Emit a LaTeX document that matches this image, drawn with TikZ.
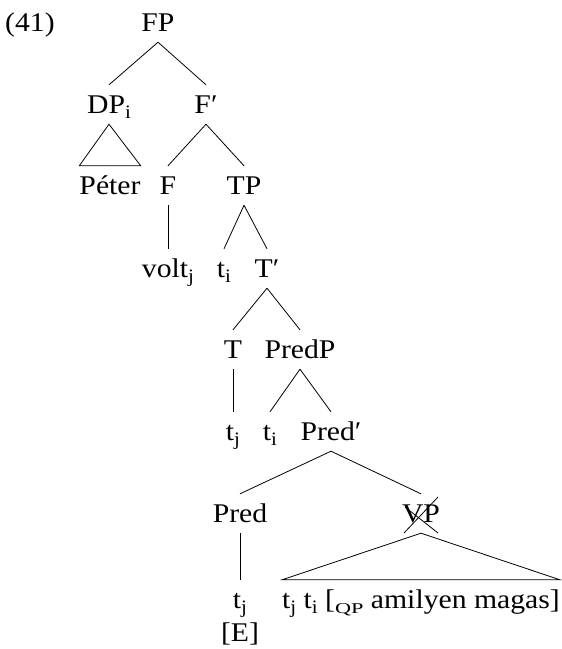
\documentclass[tikz,border=0pt]{standalone}
\usepackage{fontspec}
\usepackage{graphicx}
\setmainfont{Liberation Serif}[FakeStretch=1.1]
\begin{document}
\begin{tikzpicture}[x=1pt,y=-1pt,
  every node/.style={font=\fontsize{27}{32}\selectfont},
  lbl/.style={anchor=base,text height=23pt,text depth=6pt,inner xsep=0pt,inner ysep=5pt},
  edge/.style={line width=0.8pt}]
\useasboundingbox (0,0) rectangle (562,649);
\newcommand{\sbs}[1]{\raisebox{-5pt}{\fontsize{19}{20}\selectfont #1}}
\newcommand{\qpsc}{\raisebox{-5pt}{\scalebox{1.35}[1]{\fontsize{15}{16}\selectfont QP}}}
\node[anchor=base west,inner sep=0pt] (ex) at (5,31) {(41)};
\node[lbl] (FP) at (158,31) {FP};
\node[lbl] (DP) at (109,113) {DP\sbs{i}};
\node[lbl] (Fbar) at (206,113) {F′};
\node[lbl] (Peter) at (110,194) {Péter};
\node[lbl] (F) at (168,194) {F};
\node[lbl] (TP) at (244,194) {TP};
\node[lbl] (volt) at (168,277) {volt\sbs{j}};
\node[lbl] (tia) at (224,277) {t\sbs{i}};
\node[lbl] (Tbar) at (267,277) {T′};
\node[lbl] (T) at (233,358) {T};
\node[lbl] (PredP) at (300,358) {PredP};
\node[lbl] (tja) at (233,440) {t\sbs{j}};
\node[lbl] (tib) at (270,440) {t\sbs{i}};
\node[lbl] (Predbar) at (331,440) {Pred′};
\node[lbl] (Pred) at (240,522) {Pred};
\node[lbl] (VP) at (421,522) {VP};
\node[lbl] (tjb) at (240,608) {t\sbs{j}};
\node[lbl] (E) at (240,641) {[E]};
\node[lbl] (long) at (421,608) {t\sbs{j} t\sbs{i} [\qpsc\ amilyen magas]};
\draw[edge] (FP.south) -- (DP.north);
\draw[edge] (FP.south) -- (Fbar.north);
\draw[edge] (DP.south) -- (Peter.north west) -- (Peter.north east) -- cycle;
\draw[edge] (Fbar.south) -- (F.north);
\draw[edge] (Fbar.south) -- (TP.north);
\draw[edge] (F.south) -- (volt.north);
\draw[edge] (TP.south) -- (tia.north);
\draw[edge] (TP.south) -- (Tbar.north);
\draw[edge] (Tbar.south) -- (T.north);
\draw[edge] (Tbar.south) -- (PredP.north);
\draw[edge] (T.south) -- (tja.north);
\draw[edge] (PredP.south) -- (tib.north);
\draw[edge] (PredP.south) -- (Predbar.north);
\draw[edge] (Predbar.south) -- (Pred.north);
\draw[edge] (Predbar.south) -- (VP.north);
\draw[edge] (Pred.south) -- (tjb.north);
\draw[edge] (VP.south) -- (long.north west) -- (long.north east) -- cycle;
\draw[edge] ([xshift=-16pt,yshift=15pt]VP.base) -- ([xshift=17pt,yshift=-11pt]VP.base);
\draw[edge] ([xshift=-17pt,yshift=-11pt]VP.base) -- ([xshift=17pt,yshift=25pt]VP.base);
\end{tikzpicture}
\end{document}
